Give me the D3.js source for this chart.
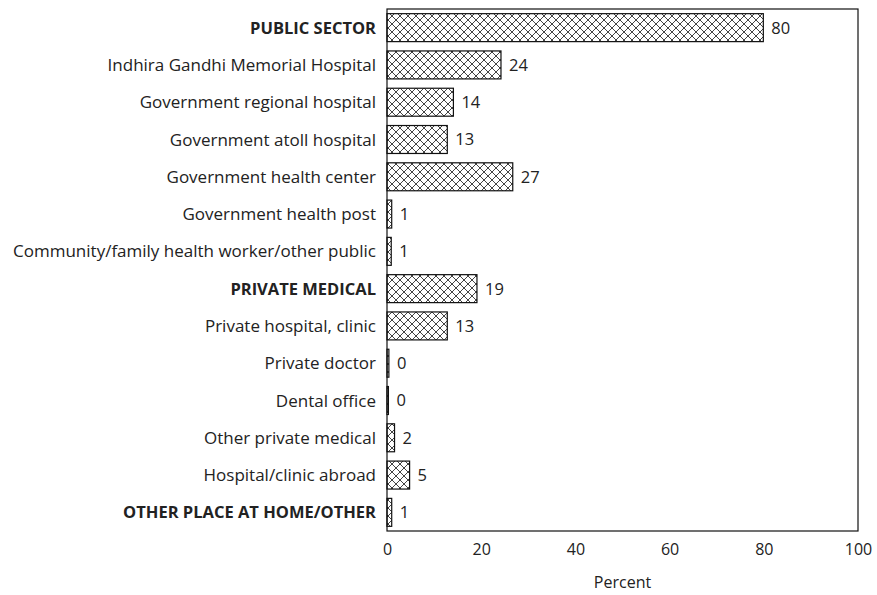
<!DOCTYPE html>
<html><head><meta charset="utf-8">
<script src="https://cdn.jsdelivr.net/npm/d3@7"></script>
<style>body{margin:0;background:#fff;}svg{display:block;font-family:"Open Sans",sans-serif;}</style>
</head><body><svg id="c" width="877" height="595"></svg>
<script>
const categories = ["PUBLIC SECTOR","Indhira Gandhi Memorial Hospital","Government regional hospital","Government atoll hospital","Government health center","Government health post","Community/family health worker/other public","PRIVATE MEDICAL","Private hospital, clinic","Private doctor","Dental office","Other private medical","Hospital/clinic abroad","OTHER PLACE AT HOME/OTHER"];
const values = [79.9,24.2,14.1,12.8,26.7,1.0,0.9,19.1,12.8,0.4,0.3,1.6,4.8,1.0];
const valueLabels = ["80","24","14","13","27","1","1","19","13","0","0","2","5","1"];
const boldCats = ["PUBLIC SECTOR","PRIVATE MEDICAL","OTHER PLACE AT HOME/OTHER"];
const xTicks = [0,20,40,60,80,100];

const svg = d3.select("#c");
const L = 387, R = 858, T = 9, B = 531;
const x = d3.scaleLinear().domain([0,100]).range([L,R]);
const y = d3.scaleBand().domain(categories).range([T,B]).paddingInner(0.25).paddingOuter(0.125);

const defs = svg.append("defs");
const pat = defs.append("pattern").attr("id","hatch").attr("patternUnits","userSpaceOnUse")
  .attr("width",8).attr("height",8);
pat.append("rect").attr("width",8).attr("height",8).attr("fill","#fff");
pat.append("path").attr("d","M0,0L8,8M8,0L0,8M-1,7L1,9M7,-1L9,1M-1,1L1,-1M7,9L9,7")
  .attr("stroke","#444").attr("stroke-width",1).attr("fill","none");

svg.append("g").selectAll("rect").data(categories).join("rect")
  .attr("x",x(0)).attr("y",d=>y(d))
  .attr("width",(d,i)=>x(values[i])-x(0)).attr("height",y.bandwidth())
  .attr("fill","url(#hatch)").attr("stroke","#111").attr("stroke-width",1.2);

svg.append("g").selectAll("text").data(categories).join("text")
  .attr("x",(d,i)=>x(values[i])+8).attr("y",d=>y(d)+y.bandwidth()/2)
  .attr("dy","0.36em").attr("font-size",16.5).attr("fill","#222")
  .text((d,i)=>valueLabels[i]);

svg.append("g").selectAll("text").data(categories).join("text")
  .attr("x",376).attr("y",d=>y(d)+y.bandwidth()/2).attr("dy","0.36em")
  .attr("text-anchor","end").attr("font-size",d=>boldCats.includes(d)?16.5:17).attr("fill","#222")
  .attr("font-weight",d=>boldCats.includes(d)?"bold":"normal")
  .text(d=>d);

svg.append("rect").attr("x",L).attr("y",T).attr("width",R-L).attr("height",B-T)
  .attr("fill","none").attr("stroke","#111").attr("stroke-width",1.2);

const xa = svg.append("g").attr("transform",`translate(0,${B})`)
  .call(d3.axisBottom(x).tickValues(xTicks).tickSize(0).tickPadding(13).tickFormat(d3.format("d")));
xa.select(".domain").remove();
xa.selectAll("text").attr("font-size",16).attr("fill","#222").attr("font-family","'Open Sans', sans-serif");

svg.append("text").attr("x",(L+R)/2).attr("y",588).attr("text-anchor","middle")
  .attr("font-size",16).attr("fill","#222").text("Percent");
</script></body></html>
